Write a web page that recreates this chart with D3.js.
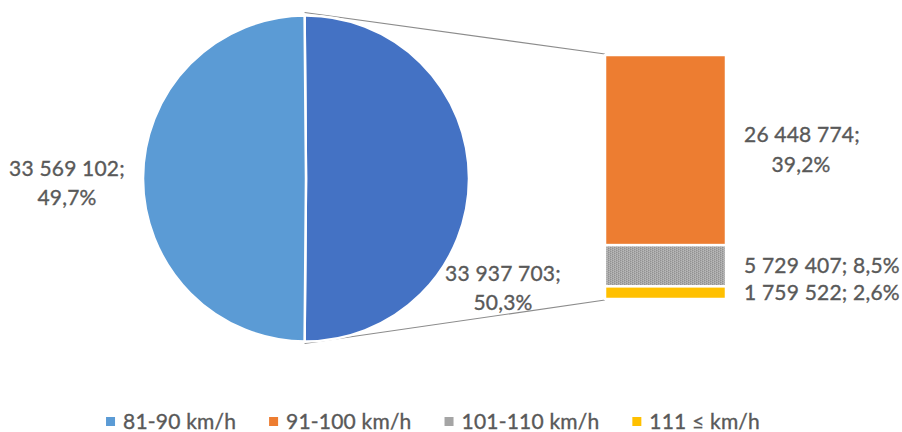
<!DOCTYPE html>
<html>
<head>
<meta charset="utf-8">
<script src="https://cdn.jsdelivr.net/npm/d3@7/dist/d3.min.js"></script>
<style>
  html, body { margin: 0; padding: 0; background: #fff; }
  svg { display: block; font-family: Lato, "Open Sans", sans-serif; }
  text { letter-spacing: 0.2px; stroke: #595959; stroke-width: 0.35px; }
</style>
</head>
<body>
<svg id="chart" width="902" height="432"></svg>
<script>
// Vehicle counts by speed band
const categories = ["81-90 km/h", "91-100 km/h", "101-110 km/h", "111 ≤ km/h"];
const values = [33569102, 26448774, 5729407, 1759522];
const colors = ["#5b9bd5", "#ed7d31", "#a5a5a5", "#ffc000"];
const otherColor = "#4472c4";

const svg = d3.select("#chart");

const total = d3.sum(values);
const fmtNum = v => d3.format(",")(v).replace(/,/g, " ");
const fmtPct = v => d3.format(".1f")(v * 100).replace(".", ",") + "%";

// Pie: first band vs. the rest (split out into the bar)
const restValues = values.slice(1);
const restTotal = d3.sum(restValues);
const pieData = [
  { key: "other", value: restTotal, color: otherColor },
  { key: categories[0], value: values[0], color: colors[0] }
];
const cx = 306, cy = 178.5, R = 163;
const otherAngle = 2 * Math.PI * restTotal / total;
const pie = d3.pie().sort(null).value(d => d.value)
  .startAngle(Math.PI / 2 - otherAngle / 2)
  .endAngle(Math.PI / 2 - otherAngle / 2 + 2 * Math.PI);
const arcs = pie(pieData);
const arc = d3.arc().innerRadius(0).outerRadius(R);

// Bar of the split-out bands
const barX = 605, barW = 121, barTop = 55, barH = 244;
const yBar = d3.scaleLinear().domain([0, restTotal]).range([barTop, barTop + barH]);
let acc = 0;
const segs = restValues.map((v, i) => {
  const s = { name: categories[i + 1], value: v, color: colors[i + 1], y0: acc, y1: acc + v };
  acc += v;
  return s;
});

// Texture for the 101-110 band
const defs = svg.append("defs");
const pat = defs.append("pattern").attr("id", "grayTex")
  .attr("patternUnits", "userSpaceOnUse").attr("width", 4).attr("height", 4);
pat.append("rect").attr("width", 4).attr("height", 4).attr("fill", "#a8a8a8");
[[0,0],[2,1],[0,2],[2,3]].forEach(([x, y]) =>
  pat.append("rect").attr("x", x).attr("y", y).attr("width", 1).attr("height", 1).attr("fill", "#919191"));
[[1,1],[3,0],[1,3],[3,2]].forEach(([x, y]) =>
  pat.append("rect").attr("x", x).attr("y", y).attr("width", 1).attr("height", 1).attr("fill", "#b9b9b9"));

// Connector lines from the split slice to the bar
const oa = arcs[0];
const pt = a => [cx + R * Math.sin(a), cy - R * Math.cos(a)];
const pStart = pt(oa.startAngle), pEnd = pt(oa.endAngle);
svg.append("line")
  .attr("x1", pStart[0]).attr("y1", pStart[1] - 3)
  .attr("x2", barX).attr("y2", yBar(0) - 1)
  .attr("stroke", "#8c8c8c").attr("stroke-width", 1.2);
svg.append("line")
  .attr("x1", pEnd[0]).attr("y1", pEnd[1] + 2)
  .attr("x2", barX).attr("y2", yBar(restTotal) + 1)
  .attr("stroke", "#8c8c8c").attr("stroke-width", 1.2);

// Pie slices
svg.append("g").attr("transform", `translate(${cx},${cy})`)
  .selectAll("path").data(arcs).join("path")
  .attr("d", arc)
  .attr("fill", d => d.data.color)
  .attr("stroke", "#fff").attr("stroke-width", 2.5);

// Bar segments
svg.append("g").selectAll("rect").data(segs).join("rect")
  .attr("x", barX).attr("width", barW)
  .attr("y", d => yBar(d.y0))
  .attr("height", d => yBar(d.y1) - yBar(d.y0))
  .attr("fill", (d, i) => i === 1 ? "url(#grayTex)" : d.color)
  .attr("stroke", "#fff").attr("stroke-width", 2.5);

const labelColor = "#595959";
const fs = 21;
function label(x, y, lines) {
  const t = svg.append("text").attr("x", x).attr("y", y)
    .attr("text-anchor", "middle").attr("fill", labelColor)
    .attr("font-size", fs);
  lines.forEach((l, i) => t.append("tspan").attr("x", x)
    .attr("dy", i === 0 ? "0.35em" : 29).text(l));
  return t;
}

// Pie labels
label(67, 169, [fmtNum(values[0]) + ";", fmtPct(values[0] / total)]);
label(503, 274, [fmtNum(restTotal) + ";", fmtPct(restTotal / total)]);

// Bar labels
const labX = barX + barW + 18;
const mids = segs.map(s => yBar((s.y0 + s.y1) / 2));
// keep the two short segments' labels from overlapping
const gap = 22;
if (mids[2] - mids[1] < gap) {
  const m = (mids[1] + mids[2]) / 2;
  mids[1] = m - gap / 2; mids[2] = m + gap / 2;
}
svg.append("text").attr("x", labX).attr("y", mids[0] - 15)
  .attr("text-anchor", "start").attr("fill", labelColor).attr("font-size", fs)
  .call(t => {
    t.append("tspan").attr("x", labX).attr("dy", "0.35em").text(fmtNum(segs[0].value) + ";");
    t.append("tspan").attr("x", labX + 57).attr("text-anchor", "middle").attr("dy", 30).text(fmtPct(segs[0].value / total));
  });
[1, 2].forEach(i => {
  svg.append("text").attr("x", labX).attr("y", mids[i]).attr("dy", "0.35em")
    .attr("fill", labelColor).attr("font-size", fs)
    .text(fmtNum(segs[i].value) + "; " + fmtPct(segs[i].value / total));
});

// Legend
const legend = svg.append("g");
const items = categories.map((c, i) => {
  const g = legend.append("g");
  g.append("rect").attr("x", 0).attr("y", -4.5).attr("width", 9).attr("height", 9).attr("fill", colors[i]);
  const t = g.append("text").attr("x", 17).attr("y", 0).attr("dy", "0.35em")
    .attr("fill", labelColor).attr("font-size", fs).text(c);
  return { g, w: 17 + t.node().getComputedTextLength() };
});
const itemGap = 33;
const totalW = d3.sum(items, d => d.w) + itemGap * (items.length - 1);
let lx = 433 - totalW / 2;
items.forEach(it => {
  it.g.attr("transform", `translate(${lx},421.5)`);
  lx += it.w + itemGap;
});
</script>
</body>
</html>
